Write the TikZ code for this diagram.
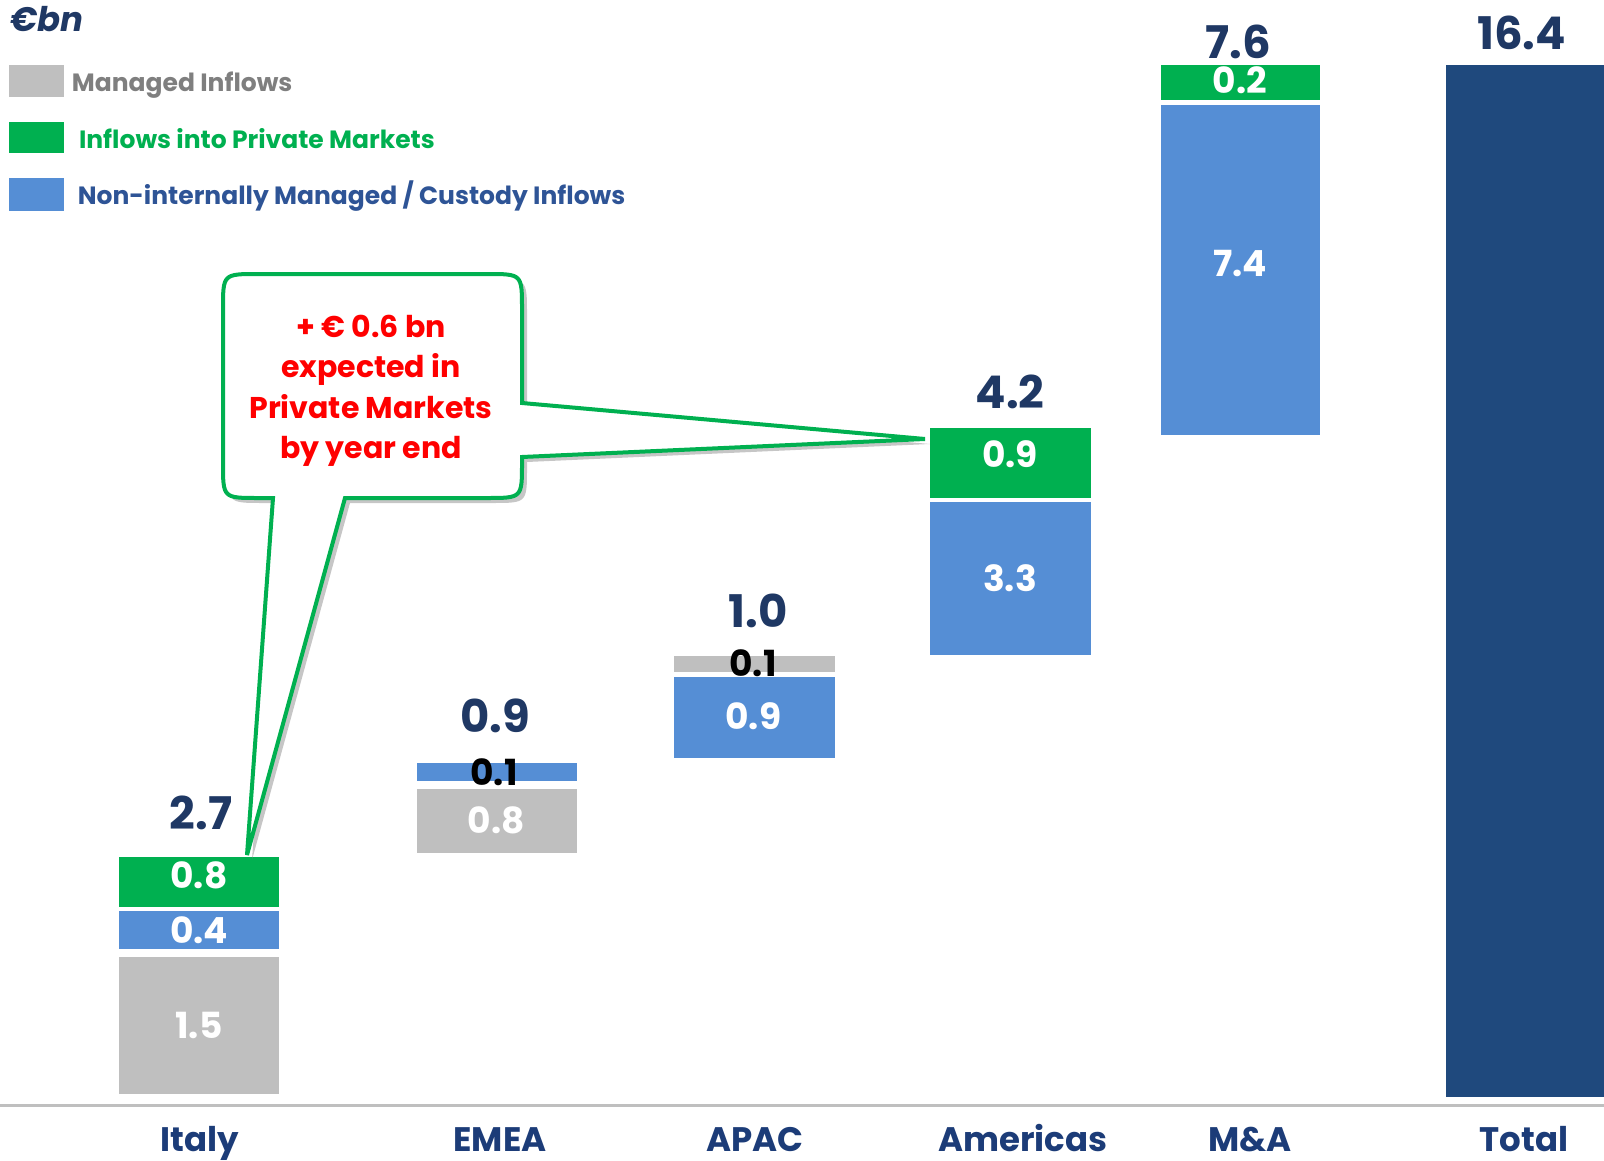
\documentclass[tikz,border=0pt]{standalone}
\usepackage{fontspec}
\setmainfont{Poppins}
\usetikzlibrary{shadows}
\definecolor{barGray}{RGB}{191,191,191}
\definecolor{barGreen}{RGB}{0,176,80}
\definecolor{barBlue}{RGB}{85,142,213}
\definecolor{barNavy}{RGB}{31,73,125}
\definecolor{valNavy}{RGB}{31,56,100}
\definecolor{catNavy}{RGB}{28,60,120}
\definecolor{legGray}{RGB}{127,127,127}
\definecolor{legBlue}{RGB}{46,84,150}
\definecolor{calloutRed}{RGB}{255,0,0}
\begin{document}
\begin{tikzpicture}[x=1pt,y=-1pt,
  tot/.style={font=\fontsize{45}{54}\selectfont\bfseries, text=valNavy, inner sep=0},
  inb/.style={font=\fontsize{36}{43}\selectfont\bfseries, text=white, inner sep=0},
  blk/.style={font=\fontsize{36}{43}\selectfont\bfseries, text=black, inner sep=0},
  cat/.style={font=\fontsize{34}{40}\selectfont\bfseries, text=catNavy, inner sep=0, anchor=base},
  leg/.style={font=\fontsize{25}{30}\selectfont\bfseries, inner sep=0, anchor=base west},
  callout/.style={draw=barGreen, line width=4pt, fill=white, line join=miter,
    drop shadow={shadow xshift=5pt, shadow yshift=-5pt, opacity=0.45, fill=gray}}
]
\useasboundingbox (0,0) rectangle (1604,1161);

% title
\node[inner sep=0, anchor=base west, font=\fontsize{34}{40}\selectfont\bfseries\itshape, text=valNavy] (unit) at (10,32) {€bn};

% legend
\fill[barGray] (9.3,65) rectangle (64,96.7);
\fill[barGreen] (9.3,121.7) rectangle (64,153.5);
\fill[barBlue] (9.3,178) rectangle (64,210.7);
\node[leg, text=legGray] (lg1) at (71.7,91.7) {Managed Inflows};
\node[leg, text=barGreen] (lg2) at (78.8,148.2) {Inflows into Private Markets};
\node[leg, text=legBlue] (lg3) at (77.7,205) {Non-internally Managed / Custody Inflows};

% axis
\draw[barGray, line width=3pt] (0,1105) -- (1604,1105);

% Italy
\fill[barGreen] (119,857) rectangle (279,906.5);
\fill[barBlue] (119,910.7) rectangle (279,949.3);
\fill[barGray] (119,956.7) rectangle (279,1094);
\node[tot] (itT) at (201,813) {2.7};
\node[inb] (itG) at (199,875) {0.8};
\node[inb] (itB) at (199,930.7) {0.4};
\node[inb] (itY) at (199,1025.7) {1.5};

% EMEA
\fill[barBlue] (417,763) rectangle (577,780.7);
\fill[barGray] (417,789) rectangle (577,852.7);
\node[tot] (emT) at (495,715.7) {0.9};
\node[blk] (emB) at (494,772) {0.1};
\node[inb] (emY) at (496,820.7) {0.8};

% APAC
\fill[barGray] (674.3,655.7) rectangle (835,672);
\fill[barBlue] (674.3,677.2) rectangle (835,758.3);
\node[tot] (apT) at (758,611) {1.0};
\node[blk] (apY) at (753,663) {0.1};
\node[inb] (apB) at (753.3,715.7) {0.9};

% Americas
\fill[barGreen] (930,428.3) rectangle (1090.7,497.7);
\fill[barBlue] (930,502.3) rectangle (1090.7,655);
\node[tot] (amT) at (1010,391.7) {4.2};
\node[inb] (amG) at (1010,454) {0.9};
\node[inb] (amB) at (1010,578.3) {3.3};

% M&A
\fill[barGreen] (1160.7,65) rectangle (1320.3,100);
\fill[barBlue] (1160.7,105) rectangle (1320.3,434.8);
\node[tot] (maT) at (1238,41.7) {7.6};
\node[inb] (maG) at (1240,80.7) {0.2};
\node[inb] (maB) at (1240,264) {7.4};

% Total
\fill[barNavy] (1445.7,65) rectangle (1604,1096.7);
\node[tot] (toT) at (1521.7,32.5) {16.4};

% categories
\node[cat] (c1) at (200,1151) {Italy};
\node[cat] (c2) at (500,1151) {EMEA};
\node[cat] (c3) at (755,1151) {APAC};
\node[cat] (c4) at (1023,1151) {Americas};
\node[cat] (c5) at (1250,1151) {M\&A};
\node[cat] (c6) at (1524,1151) {Total};

% callout
\coordinate (tipL) at (247,855);
\coordinate (tipR) at (925,439);
\draw[callout] (258,274) -- (487,274) .. controls (522,274) .. (522,309) -- (522,403)
  -- (tipR) -- (522,457) -- (522,463) .. controls (522,498) .. (487,498) -- (345,498)
  -- (tipL) -- (273,498) -- (258,498) .. controls (223,498) .. (223,463) -- (223,309)
  .. controls (223,274) .. (258,274) -- cycle;
\node[inner sep=0, align=center, text=calloutRed,
  font=\fontsize{30}{40.5}\selectfont\bfseries] (note) at (371,391)
  {+ € 0.6 bn\\expected in\\Private Markets\\by year end};
\end{tikzpicture}
\end{document}
